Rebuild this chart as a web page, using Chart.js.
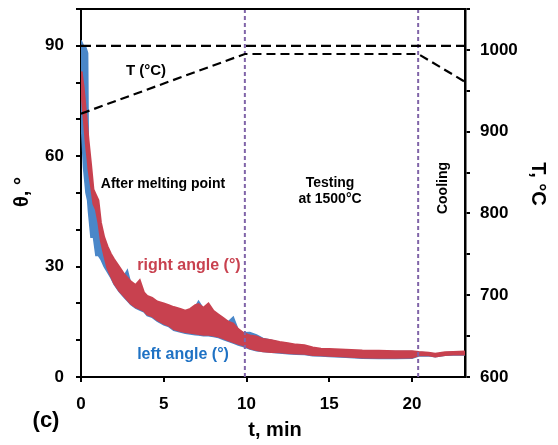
<!DOCTYPE html>
<html>
<head>
<meta charset="utf-8">
<script src="https://cdn.jsdelivr.net/npm/chart.js@4.4.1/dist/chart.umd.min.js"></script>
<style>
html,body{margin:0;padding:0;background:#fff;}
#wrap{width:558px;height:445px;position:relative;}
</style>
</head>
<body>
<div id="wrap"><canvas id="c" width="558" height="445"></canvas></div>
<script>
// ---- data ----
const timeMin = [0, 0.05, 0.15, 0.3, 0.4, 0.45, 0.6, 0.75, 0.9, 1.05,
  1.2, 1.4, 1.6, 1.8, 2.0, 2.3, 2.6, 2.8, 3.0, 3.3,
  3.55, 3.8, 4.0, 4.3, 4.6, 5.0, 5.3, 5.6, 6.0, 6.3,
  6.6, 6.9, 7.1, 7.4, 7.7, 8.0, 8.3, 8.6, 8.9, 9.2,
  9.5, 9.8, 10.2, 10.6, 11, 11.5, 12, 12.5, 13, 13.5,
  14, 14.5, 15, 16, 17, 18, 19, 20, 20.4, 21,
  21.4, 22, 22.5, 23.2];

// right angle (°) band: upper and lower edges
const rightUpper = [83, 82.5, 79, 72, 67, 64.5, 58, 51, 49.5, 48,
  42, 38, 35.5, 33.5, 32, 30, 28, 27, 26, 25,
  26.3, 23, 22, 21.5, 20.5, 20, 19.5, 19, 18.5, 18,
  18.5, 19.5, 19.8, 18.8, 20, 18, 17, 16, 15, 14.5,
  13, 12, 11.3, 11, 10.3, 10, 9.5, 9.2, 8.8, 8.6,
  8.0, 7.7, 7.6, 7.4, 7.2, 7.1, 7.0, 7.0, 6.8, 6.6,
  6.3, 6.7, 6.8, 6.9];
const rightLower = [78, 76, 71, 63, 59, 56.5, 52, 47, 45.5, 42,
  37, 33, 29.5, 27.5, 25.5, 23.5, 22, 21, 20, 19,
  18.5, 18, 17, 16.5, 15.5, 14.5, 14, 13, 12.5, 12.2,
  12, 11.8, 11.7, 11.5, 11.5, 11.3, 11, 10.5, 10, 9.5,
  9, 8.6, 7.8, 7.3, 7, 6.8, 6.7, 6.5, 6.4, 6.3,
  6.0, 5.9, 5.8, 5.6, 5.3, 5.2, 5.2, 5.3, 5.9, 5.9,
  5.6, 6.0, 6.1, 6.1];

// left angle (°) band: upper and lower edges
const leftUpper = [91.5, 91.5, 90, 89.5, 88, 58, 50, 48, 47.5, 45,
  40, 37, 35, 33, 31.5, 29.5, 27.5, 29, 25.5, 24.5,
  24, 22.5, 21.5, 21, 20, 19.5, 19, 18.5, 18, 17.8,
  18, 19, 20.6, 18.5, 19.5, 17.5, 16.5, 15.5, 15, 16.3,
  12.8, 12, 12.1, 11.4, 10.5, 10, 9.4, 9.0, 8.6, 8.4,
  7.8, 7.5, 7.4, 7.2, 7.0, 6.9, 6.9, 6.9, 6.7, 6.5,
  6.2, 6.6, 6.7, 6.8];
const leftLower = [72, 66, 57, 50, 48, 45, 38, 38, 33, 33,
  32, 30, 28.5, 27, 25.2, 23.2, 21.7, 20.7, 19.7, 18.7,
  18.2, 17.7, 16.7, 16.2, 15.2, 14.2, 13.7, 12.7, 12.2, 11.9,
  11.7, 11.5, 11.4, 11.2, 11.2, 11.0, 10.7, 10.2, 9.7, 9.2,
  8.7, 8.3, 7.6, 7.1, 6.9, 6.7, 6.5, 6.3, 6.2, 6.1,
  5.8, 5.7, 5.6, 5.4, 5.1, 5.0, 5.0, 5.1, 5.7, 5.8,
  5.5, 5.9, 6.0, 6.0];

// furnace temperature T (°C), right axis
const tempTime = [0, 9.9, 20.37, 23.2];
const tempC = [922, 995, 995, 961];

// reference level θ = 90°
const refTime = [0, 23.2];
const refTheta = [90, 90];

// phase boundaries (min)
const phaseTimes = [9.9, 20.37];

// axis ticks
const thetaLabels = [0, 30, 60, 90];
const tempLabels = [600, 700, 800, 900, 1000];
const timeTicks = [0, 5, 10, 15, 20];

// ---- build chart ----
const pts = (xs, ys) => xs.map((x, i) => ({x: x, y: ys[i]}));
const RED = '#C8414F';
const BLUE = '#4A87C9';
const PURPLE = '#8064A8';
const FONT = '"Liberation Sans", Arial, sans-serif';

const datasets = [
  {data: pts(timeMin, leftLower), borderColor: BLUE, borderWidth: 1.5, backgroundColor: BLUE, fill: false, order: 5, yAxisID: 'y'},
  {data: pts(timeMin, leftUpper), borderColor: BLUE, borderWidth: 1.5, backgroundColor: BLUE, fill: 0, order: 4, yAxisID: 'y'},
  {data: pts(timeMin, rightLower), borderColor: RED, borderWidth: 2, backgroundColor: RED, fill: false, order: 3, yAxisID: 'y'},
  {data: pts(timeMin, rightUpper), borderColor: RED, borderWidth: 2, backgroundColor: RED, fill: 2, order: 2, yAxisID: 'y'},
  {data: pts(tempTime, tempC), borderColor: '#000', borderWidth: 2.2, borderDash: [9, 5], fill: false, order: 0, yAxisID: 'y1'},
  {data: pts(refTime, refTheta), borderColor: '#000', borderWidth: 2.2, borderDash: [10, 5], fill: false, order: 0, yAxisID: 'y'}
];
phaseTimes.forEach(t => {
  datasets.push({data: [{x: t, y: 0}, {x: t, y: 100}], borderColor: PURPLE, borderWidth: 2, borderDash: [4, 3], fill: false, order: 1, yAxisID: 'y'});
});

const textPlugin = {
  id: 'texts',
  afterDraw(chart) {
    const ctx = chart.ctx;
    const a = chart.chartArea;
    ctx.save();
    // top frame line
    ctx.strokeStyle = '#000';
    ctx.lineWidth = 2;
    ctx.beginPath();
    ctx.moveTo(a.left, a.top);
    ctx.lineTo(a.right, a.top);
    ctx.stroke();

    ctx.textAlign = 'center';
    ctx.textBaseline = 'middle';
    const txt = (s, x, y, size, color, rot) => {
      ctx.save();
      ctx.translate(x, y);
      if (rot) ctx.rotate(rot);
      ctx.font = 'bold ' + size + 'px ' + FONT;
      ctx.fillStyle = color;
      ctx.fillText(s, 0, 0);
      ctx.restore();
    };
    txt('T (°C)', 146, 71, 15, '#000');
    txt('After melting point', 163, 184, 14, '#000');
    txt('Testing', 330, 183, 14, '#000');
    txt('at 1500°C', 330, 199, 14, '#000');
    txt('Cooling', 443, 188, 14, '#000', -Math.PI / 2);
    txt('right angle (°)', 189, 266, 16, RED);
    txt('left angle (°)', 183, 355, 16, '#1F72C4');
    txt('θ, °', 22, 192, 20, '#000', -Math.PI / 2);
    txt('T, °C', 538, 184, 20, '#000', Math.PI / 2);
    txt('t, min', 275, 430, 20, '#000');
    txt('(c)', 46, 421, 22, '#000');
    ctx.restore();
  }
};

function fixV(w) {
  return s => { s.width = w; s.paddingTop = 0; s.paddingBottom = 0; };
}

new Chart(document.getElementById('c'), {
  type: 'line',
  data: {datasets: datasets},
  plugins: [textPlugin],
  options: {
    responsive: false,
    animation: false,
    layout: {padding: {top: 9, left: 0, right: 0, bottom: 0}},
    elements: {point: {radius: 0}, line: {tension: 0}},
    plugins: {legend: {display: false}, tooltip: {enabled: false}},
    scales: {
      x: {
        type: 'linear', min: 0, max: 23.2,
        afterFit: s => { s.height = 68; s.paddingLeft = 0; s.paddingRight = 0; },
        border: {display: true, color: '#000', width: 2},
        grid: {drawOnChartArea: false, drawTicks: true, tickLength: 5, color: '#000', lineWidth: 2},
        ticks: {
          stepSize: 5, includeBounds: false, padding: 12, color: '#000', maxRotation: 0,
          font: {family: FONT, size: 17, weight: 'bold'},
          callback: v => timeTicks.includes(v) ? String(v) : ''
        }
      },
      y: {
        type: 'linear', position: 'left', min: 0, max: 100,
        afterFit: fixV(81),
        border: {display: true, color: '#000', width: 2},
        grid: {drawOnChartArea: false, drawTicks: true, tickLength: 5, color: '#000', lineWidth: 2},
        ticks: {
          stepSize: 10, includeBounds: false, padding: 12, color: '#000',
          font: {family: FONT, size: 17, weight: 'bold'},
          callback: v => thetaLabels.includes(v) ? String(v) : ''
        }
      },
      y1: {
        type: 'linear', position: 'right', min: 600, max: 1050,
        afterFit: fixV(93),
        border: {display: true, color: '#000', width: 2.5},
        grid: {drawOnChartArea: false, drawTicks: true, tickLength: 5, color: '#000', lineWidth: 2},
        ticks: {
          stepSize: 50, includeBounds: false, padding: 10, color: '#000',
          font: {family: FONT, size: 17, weight: 'bold'},
          callback: v => tempLabels.includes(v) ? String(v) : ''
        }
      }
    }
  }
});
</script>
</body>
</html>
